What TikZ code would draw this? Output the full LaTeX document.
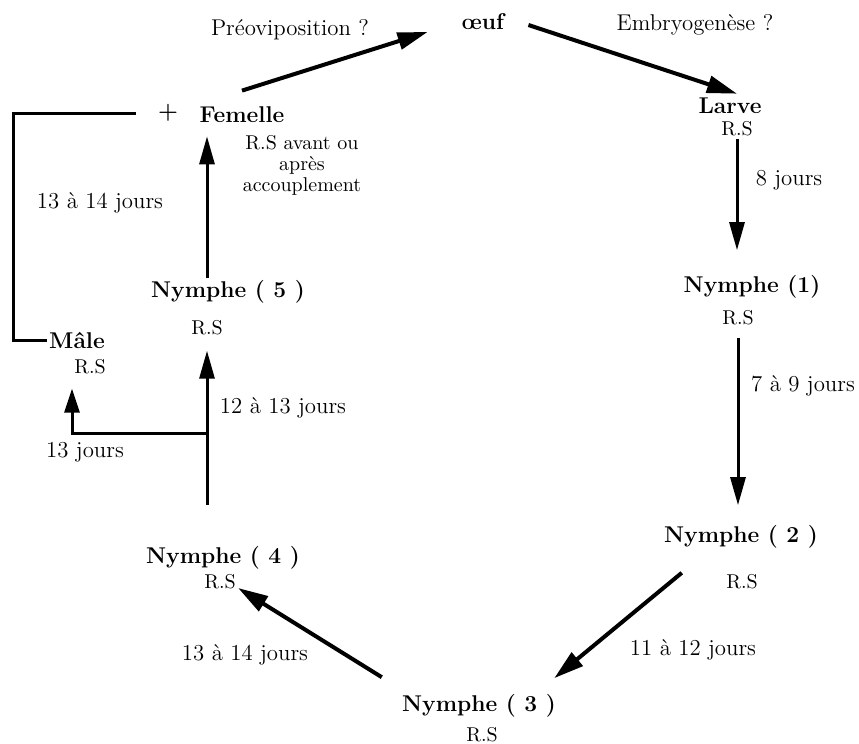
\documentclass[tikz,border=0pt]{standalone}
\usepackage{tikz}
\usetikzlibrary{arrows.meta}

\tikzset{
  stade/.style={font=\fontsize{11.4}{13}\selectfont\bfseries, inner sep=1pt},
  rs/.style={font=\fontsize{10}{11}\selectfont, inner sep=1pt},
  duree/.style={font=\fontsize{11.4}{13}\selectfont, inner sep=1pt},
  fleche/.style={line width=2pt, -{Triangle[length=15pt,width=8.5pt]}},
  flechev/.style={line width=1.5pt, -{Triangle[length=14pt,width=7.5pt]}},
  trait/.style={line width=1.5pt},
}

\begin{document}
\begin{tikzpicture}[x=0.5pt,y=-0.5pt]
\useasboundingbox (0,0) rectangle (859,744);
% stades
\node[stade] (oeuf) at (483,22) {œuf};
\node[stade] (larve) at (730,106) {Larve};
\node[rs] (rsL) at (737,129) {R.S};
\node[stade] (n1) at (752,287) {Nymphe (1)};
\node[rs] (rs1) at (738,318) {R.S};
\node[stade] (n2) at (741,537) {Nymphe ( 2 )};
\node[rs] (rs2) at (742,582) {R.S};
\node[stade] (n3) at (479,706) {Nymphe ( 3 )};
\node[rs] (rs3) at (482,735) {R.S};
\node[stade] (n4) at (223,558) {Nymphe ( 4 )};
\node[rs] (rs4) at (220,582) {R.S};
\node[stade] (n5) at (228,292) {Nymphe ( 5 )};
\node[rs] (rs5) at (207,328) {R.S};
\node[stade] (male) at (77,340) {Mâle};
\node[rs] (rsM) at (90,367) {R.S};
\node[stade] (plus) at (168,113) {+};
\node[stade] (fem) at (242,115) {Femelle};
\node[rs, align=center, font=\fontsize{10}{10.5}\selectfont] (rsAv) at (302,165) {R.S avant ou\\après\\accouplement};
% durees
\node[duree] (preo) at (290,30) {Préoviposition ?};
\node[duree] (embryo) at (695,25) {Embryogenèse ?};
\node[duree] (j8) at (789,180) {8 jours};
\node[duree] (j79) at (803,386) {7 à 9 jours};
\node[duree] (j1112) at (693,650) {11 à 12 jours};
\node[duree] (j1314b) at (245,655) {13 à 14 jours};
\node[duree] (j1213) at (283,408) {12 à 13 jours};
\node[duree] (j13) at (85,452) {13 jours};
\node[duree] (j1314) at (100,203) {13 à 14 jours};
\coordinate (br) at (207,433);
% fleches
\draw[fleche] ([yshift=7pt]fem.north) -- ([xshift=-16pt,yshift=-5pt]oeuf.west);
\draw[fleche] ([xshift=11pt,yshift=-1.5pt]oeuf.east) -- ([xshift=3.5pt,yshift=1pt]larve.north);
\draw[flechev, shorten <=0pt, shorten >=11.5pt] (rsL.south) -- (rsL.south |- n1.north);
\draw[flechev, shorten <=5pt, shorten >=9pt] (rs1.south) -- (rs1.south |- n2.north);
\draw[fleche] ([xshift=10pt,yshift=-11pt]n2.south west) -- ([xshift=-2pt,yshift=7pt]n3.north east);
\draw[fleche] ([xshift=-9pt,yshift=7.5pt]n3.north west) -- ([yshift=-3pt]rs4.east);
\draw[flechev, shorten <=19.5pt, shorten >=6.5pt] (rs5.south |- n4.north) -- (rs5.south);
\draw[trait, -{Triangle[length=12pt,width=7.5pt]}] (br) -| ([xshift=-9pt,yshift=-6pt]rsM.south);
\draw[flechev, shorten >=5.5pt] (n5.north -| rs5) -- (fem.south -| rs5);
\draw[trait, shorten >=10pt] (male.west) -- ++(-33,0) |- (plus.west);
\end{tikzpicture}
\end{document}
